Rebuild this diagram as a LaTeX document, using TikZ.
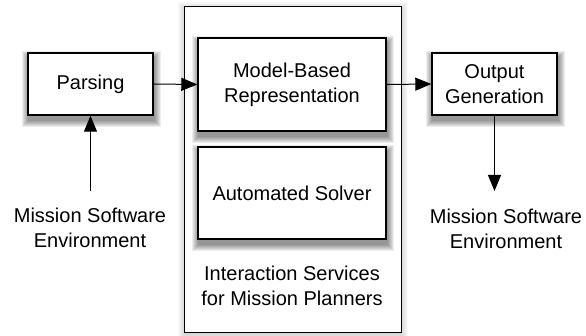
\documentclass[tikz,border=0pt]{standalone}
\usepackage{fontspec}
\setmainfont{Liberation Sans}
\usetikzlibrary{arrows.meta}
\pgfdeclarelayer{bgshadow}
\pgfdeclarelayer{bglayer}
\pgfdeclarelayer{shadowlayer}
\pgfsetlayers{bgshadow,bglayer,shadowlayer,main}
\newcommand{\softshadow}[4]{% node, dx, dy, opacity per layer
  \foreach \r in {0,1,...,6}{
    \fill[black, fill opacity=#4]
      ([shift={(#2-\r,#3-\r)}]#1.north west) rectangle ([shift={(#2+\r,#3+\r)}]#1.south east);
  }}
\begin{document}
\begin{tikzpicture}[x=1pt,y=-1pt,
  every node/.style={font=\fontsize{20}{25}\selectfont, align=center},
  box/.style={draw=black, line width=1.4pt, fill=white, inner sep=0pt},
  outerbox/.style={draw=black, line width=1pt, fill=white, inner sep=0pt},
  conn/.style={line width=1pt, arrows={-Triangle[length=16pt,width=13pt]}},
  plain/.style={inner sep=0pt}]
\useasboundingbox (0,0) rectangle (586,336);
\begin{pgfonlayer}{bglayer}
\node[outerbox, minimum width=217pt, minimum height=326pt] (outer) at (292.5,170) {};
\end{pgfonlayer}
\node[box, minimum width=125pt, minimum height=62pt] (parse) at (90.5,84) {Parsing};
\node[box, minimum width=188pt, minimum height=93pt] (model) at (292,84.5) {Model-Based\\Representation};
\node[box, minimum width=188pt, minimum height=92pt] (solver) at (292,193) {Automated Solver};
\node[box, minimum width=125pt, minimum height=62pt] (outgen) at (494.5,84) {Output\\Generation};
\node[plain] (lenv) at (90,228) {Mission Software\\Environment};
\node[plain] (renv) at (506,229) {Mission Software\\Environment};
\node[plain] (isvc) at (292,286) {Interaction Services\\for Mission Planners};
\begin{pgfonlayer}{bgshadow}
\softshadow{outer}{0}{2}{0.025}
\end{pgfonlayer}
\begin{pgfonlayer}{shadowlayer}
\softshadow{parse}{1}{5}{0.07}
\softshadow{model}{1}{5}{0.07}
\softshadow{solver}{1}{5}{0.07}
\softshadow{outgen}{1}{5}{0.07}
\end{pgfonlayer}
\coordinate (rend) at (494.5,191);
\coordinate (lstart) at (90.5,191);
\draw[conn] (parse.east) -- (model.west);
\draw[conn] (model.east) -- (outgen.west);
\draw[conn] (outgen.south) -- (rend);
\draw[conn] (lstart) -- (parse.south);
\end{tikzpicture}
\end{document}
